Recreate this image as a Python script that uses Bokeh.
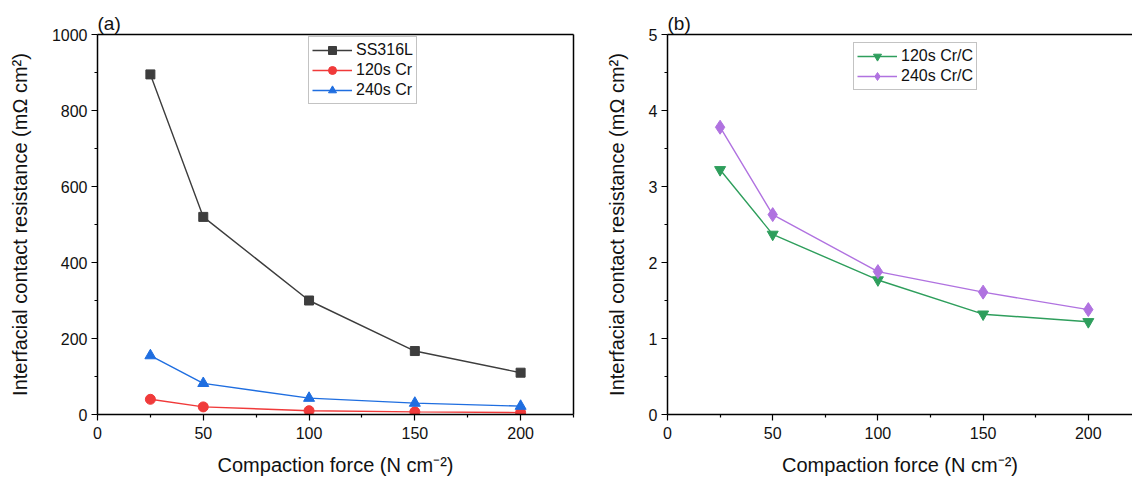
from bokeh.plotting import figure
from bokeh.layouts import row
from bokeh.models import LinearAxis, Title, Legend, LegendItem, FixedTicker, Range1d
from bokeh.embed import file_html
from bokeh.resources import INLINE

force = [25, 50, 100, 150, 200]
ss316l = [895, 520, 300, 167, 110]
cr120 = [40, 20, 10, 7, 5]
cr240 = [155, 82, 43, 30, 22]
crc120 = [3.22, 2.37, 1.77, 1.32, 1.22]
crc240 = [3.78, 2.63, 1.88, 1.61, 1.38]

FONT = "Liberation Sans"
XLABEL = "Compaction force (N cm\u207b\u00b2)"
YLABEL = "Interfacial contact resistance (m\u03a9 cm\u00b2)"


def style_axis(ax, ticks, minor, labels=True):
    ax.ticker = FixedTicker(ticks=ticks, minor_ticks=minor)
    ax.axis_line_color = "black"
    ax.axis_line_width = 1.5
    ax.major_tick_line_color = "black"
    ax.minor_tick_line_color = "black"
    ax.major_tick_line_width = 1.2
    ax.minor_tick_line_width = 1.2
    ax.major_tick_out = 6
    ax.major_tick_in = 0
    ax.minor_tick_out = 3
    ax.minor_tick_in = 0
    ax.major_label_text_font = FONT
    ax.major_label_text_font_size = "16px"
    ax.major_label_text_color = "#111111"
    ax.axis_label_text_font = FONT
    ax.axis_label_text_font_size = "20px"
    ax.axis_label_text_font_style = "normal"
    ax.axis_label_text_color = "#111111"
    if not labels:
        ax.major_label_text_font_size = "0px"
        ax.major_tick_line_color = None
        ax.minor_tick_line_color = None


def make_fig(width, x_end, y_end, ymaj, ymin, left, right, tag):
    p = figure(width=width, height=478, output_backend="svg", toolbar_location=None,
               x_range=Range1d(0, x_end), y_range=Range1d(0, y_end),
               min_border_left=left, min_border_right=right,
               min_border_top=34, min_border_bottom=63)
    p.outline_line_color = None
    p.grid.visible = False
    p.background_fill_color = "white"
    p.border_fill_color = "white"
    style_axis(p.xaxis[0], [0, 50, 100, 150, 200], [25, 75, 125, 175, 225])
    style_axis(p.yaxis[0], ymaj, ymin)
    p.xaxis[0].axis_label = XLABEL
    p.yaxis[0].axis_label = YLABEL
    p.xaxis[0].major_label_standoff = 6
    p.xaxis[0].axis_label_standoff = 12
    p.yaxis[0].major_label_standoff = 4
    p.yaxis[0].axis_label_standoff = 18
    top = LinearAxis()
    style_axis(top, [], [], labels=False)
    p.add_layout(top, "above")
    p.add_layout(Title(text=tag, align="left", text_font=FONT, text_font_size="19px",
                       text_font_style="normal", text_color="#111111",
                       offset=0, standoff=2), "above")
    return p


# ---- panel (a)
pa = make_fig(590, 225, 1000, [0, 200, 400, 600, 800, 1000],
              [100, 300, 500, 700, 900], 97, 17, "(a)")
ra = LinearAxis()
style_axis(ra, [], [], labels=False)
pa.add_layout(ra, "right")

items = []
for ys, col, mk, name, sz in [
    (ss316l, "#3d3d3d", "square", "SS316L", 9),
    (cr120, "#f03a3a", "circle", "120s Cr", 10),
    (cr240, "#1f6ee0", "triangle", "240s Cr", 11),
]:
    l = pa.line(force, ys, line_color=col, line_width=1.4)
    m = pa.scatter(force, ys, marker=mk, size=sz, fill_color=col, line_color=col)
    items.append(LegendItem(label=name, renderers=[l, m]))
leg_a = Legend(items=items, location=(211, 310))
pa.add_layout(leg_a)

# ---- panel (b)
pb = make_fig(542, 221, 5, [0, 1, 2, 3, 4, 5],
              [0.5, 1.5, 2.5, 3.5, 4.5], 77, 0, "(b)")
items_b = []
for ys, col, mk, name, sz in [
    (crc120, "#2e9e5c", "inverted_triangle", "120s Cr/C", 11),
    (crc240, "#b072e0", "diamond", "240s Cr/C", 14),
]:
    l = pb.line(force, ys, line_color=col, line_width=1.4)
    m = pb.scatter(force, ys, marker=mk, size=sz, fill_color=col, line_color=col)
    items_b.append(LegendItem(label=name, renderers=[l, m]))
leg_b = Legend(items=items_b, location=(186, 324))
pb.add_layout(leg_b)

for lg in (leg_a, leg_b):
    lg.label_text_font = FONT
    lg.label_text_font_size = "16px"
    lg.label_text_color = "#111111"
    lg.border_line_color = "#888888"
    lg.border_line_width = 1
    lg.padding = 3
    lg.margin = 0
    lg.spacing = 0
    lg.glyph_width = 40
    lg.glyph_height = 20
    lg.label_height = 20
    lg.label_standoff = 4

layout = row(pa, pb)
open("out.html", "w").write(file_html(layout, INLINE))
